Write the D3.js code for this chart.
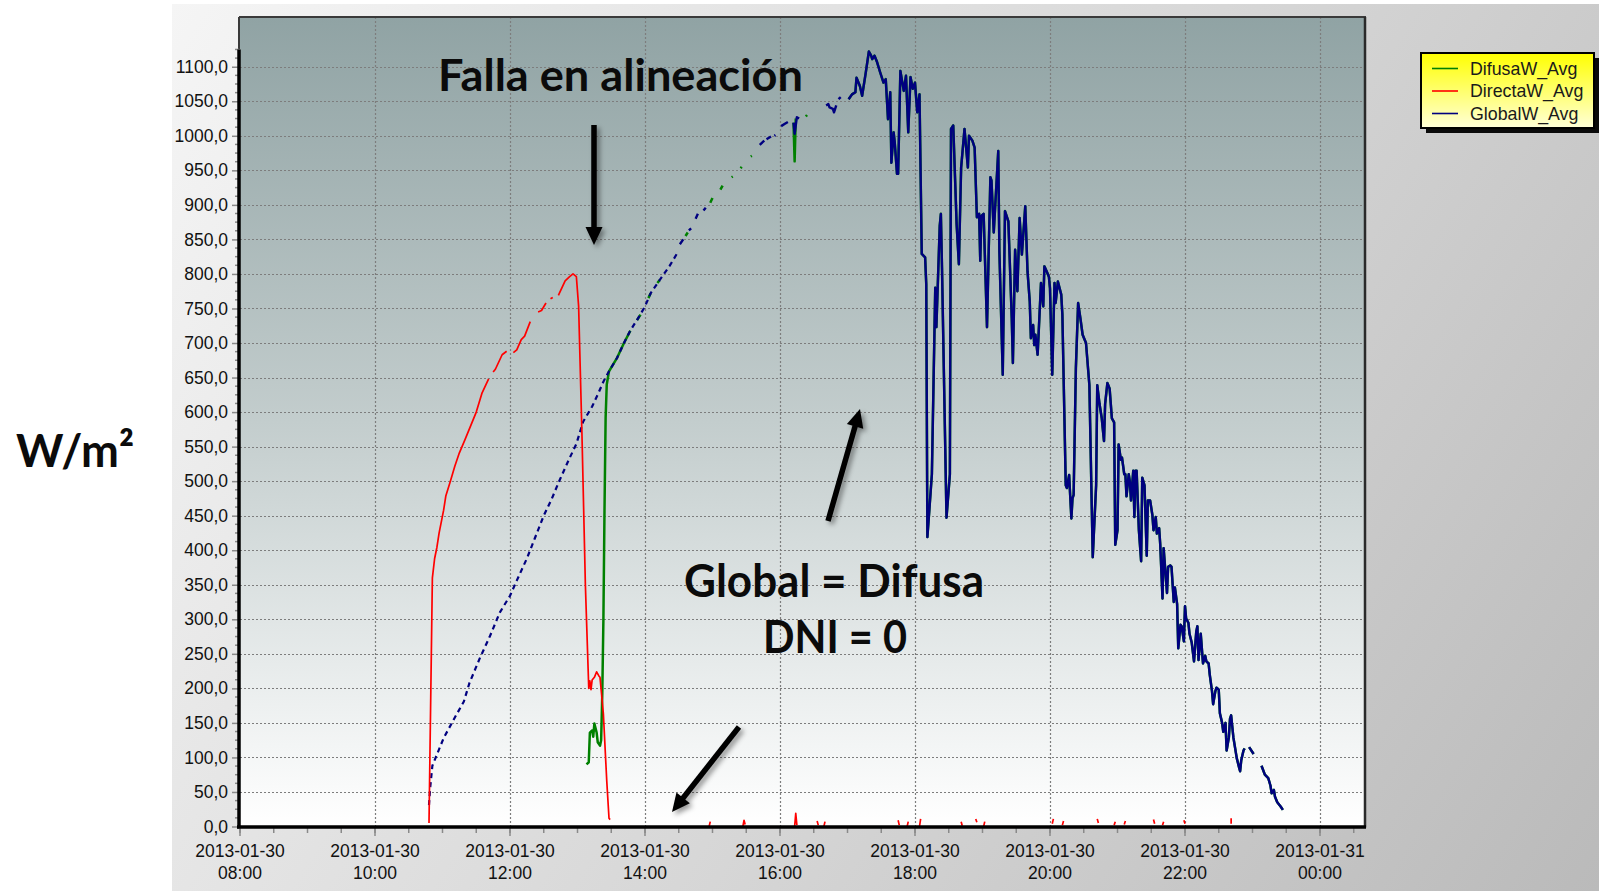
<!DOCTYPE html>
<html>
<head>
<meta charset="utf-8">
<script src="https://cdn.jsdelivr.net/npm/d3@7"></script>
<style>
  html, body { margin: 0; padding: 0; background: #ffffff; overflow: hidden; }
  svg { display: block; }
</style>
</head>
<body>
<svg id="chart" width="1599" height="891"></svg>
<script>
// ---------------------------------------------------------------
// Irradiance log, 2013-01-30 (W/m², 1-min averages)
// Each reading is [time, value]; null marks a gap in the logger record.
// ---------------------------------------------------------------

// Global horizontal irradiance while the logger recorded sparsely (drawn dashed)
const globalRise = [
  ["10:48", 31], ["10:49", 55], ["10:51", 88], ["11:01", 128], ["11:10", 155],
  ["11:19", 181], ["11:24", 208], ["11:33", 243], ["11:42", 275], ["11:51", 310],
  ["12:00", 334], ["12:06", 356], ["12:15", 388], ["12:22", 417], ["12:30", 450],
  ["12:37", 474], ["12:44", 501], ["12:52", 530], ["12:59", 554], ["13:05", 586],
  ["13:13", 608], ["13:19", 629], ["13:23", 644], ["13:28", 659], ["13:35", 678],
  ["13:41", 699], ["13:47", 718], ["13:55", 739], ["14:00", 753], ["14:05", 772],
  ["14:13", 791], ["14:22", 812], ["14:29", 831]
];

// Global horizontal irradiance, afternoon
const globalReadings = [
  ["14:31", 843], ["14:34", 850], null,
  ["14:39", 863], ["14:41", 866], null,
  ["14:45", 880], ["14:47", 887], null,
  ["14:52", 892], ["14:54", 896], null,
  ["15:42", 987], ["15:46", 993], null,
  ["15:48", 995], ["15:52", 999], null,
  ["15:55", 1000], ["15:56", 1001], null,
  ["16:01", 1014], ["16:04", 1017], ["16:07", 1020], null,
  ["16:12", 1019], ["16:13", 1003], ["16:15", 1027], ["16:17", 1025], null,
  ["16:41", 1044], ["16:43", 1046], ["16:44", 1041], ["16:47", 1039], ["16:48", 1034], ["16:50", 1044], null,
  ["16:52", 1053], ["16:54", 1056], null,
  ["17:01", 1053], ["17:04", 1060], ["17:07", 1063], ["17:08", 1084], ["17:11", 1072],
  ["17:13", 1058], ["17:16", 1089], ["17:19", 1122], ["17:21", 1116], ["17:22", 1111],
  ["17:24", 1116], ["17:26", 1108], ["17:29", 1092], ["17:32", 1077], ["17:34", 1082],
  ["17:36", 1024], ["17:38", 1063], ["17:39", 961], ["17:41", 1005], ["17:42", 990],
  ["17:44", 945], ["17:45", 945], ["17:47", 1094], ["17:50", 1065], ["17:52", 1087],
  ["17:54", 1005], ["17:56", 1085], ["17:58", 1068], ["18:00", 1077], ["18:02", 1034],
  ["18:04", 1060], ["18:06", 829], ["18:09", 824], ["18:10", 785], ["18:11", 419],
  ["18:13", 464], ["18:15", 510], ["18:18", 780], ["18:19", 723], ["18:22", 870],
  ["18:23", 887], ["18:24", 809], ["18:25", 718], ["18:28", 447], ["18:31", 510],
  ["18:32", 1010], ["18:34", 1015], ["18:37", 872], ["18:39", 814], ["18:41", 954],
  ["18:44", 1010], ["18:47", 954], ["18:48", 1000], ["18:51", 993], ["18:53", 983],
  ["18:55", 882], ["18:57", 887], ["18:58", 819], ["18:59", 884], ["19:01", 887],
  ["19:04", 723], ["19:07", 940], ["19:08", 935], ["19:10", 860], ["19:14", 978],
  ["19:15", 833], ["19:18", 654], ["19:20", 891], ["19:23", 876], ["19:26", 736],
  ["19:27", 671], ["19:29", 835], ["19:31", 775], ["19:33", 881], ["19:35", 828],
  ["19:38", 898], ["19:40", 804], ["19:42", 760], ["19:43", 707], ["19:45", 726],
  ["19:46", 697], ["19:47", 712], ["19:49", 683], ["19:52", 787], ["19:54", 753],
  ["19:55", 811], ["19:57", 804], ["19:59", 796], ["20:00", 779], ["20:02", 654],
  ["20:04", 787], ["20:05", 758], ["20:07", 789], ["20:10", 770], ["20:11", 741],
  ["20:14", 494], ["20:15", 490], ["20:17", 509], ["20:19", 446], ["20:20", 475],
  ["20:21", 480], ["20:23", 664], ["20:25", 758], ["20:27", 736], ["20:29", 712],
  ["20:32", 700], ["20:35", 639], ["20:38", 390], ["20:41", 494], ["20:42", 639],
  ["20:44", 612], ["20:46", 591], ["20:48", 558], ["20:49", 612], ["20:51", 642],
  ["20:53", 634], ["20:55", 591], ["20:57", 585], ["20:58", 408], ["21:00", 429],
  ["21:01", 553], ["21:03", 531], ["21:04", 534], ["21:06", 510], ["21:07", 510],
  ["21:08", 478], ["21:10", 510], ["21:11", 499], ["21:12", 472], ["21:14", 515],
  ["21:15", 448], ["21:16", 515], ["21:17", 515], ["21:19", 429], ["21:21", 384],
  ["21:22", 505], ["21:24", 494], ["21:26", 392], ["21:27", 472], ["21:29", 472],
  ["21:31", 451], ["21:32", 429], ["21:34", 448], ["21:35", 424], ["21:37", 432],
  ["21:38", 408], ["21:40", 330], ["21:41", 403], ["21:43", 360], ["21:44", 338],
  ["21:45", 376], ["21:47", 378], ["21:48", 376], ["21:50", 325], ["21:51", 346],
  ["21:53", 322], ["21:54", 258], ["21:56", 292], ["21:57", 290], ["21:59", 268],
  ["22:00", 319], ["22:01", 301], ["22:03", 295], ["22:04", 279], ["22:06", 266],
  ["22:08", 239], ["22:10", 282], ["22:11", 290], ["22:12", 241], ["22:14", 279],
  ["22:16", 236], ["22:18", 247], ["22:19", 239], ["22:21", 236], ["22:22", 220],
  ["22:24", 196], ["22:25", 177], ["22:27", 196], ["22:28", 201], ["22:30", 198],
  ["22:31", 164], ["22:33", 150], ["22:34", 137], ["22:36", 150], ["22:37", 110],
  ["22:39", 129], ["22:40", 156], ["22:41", 161], ["22:43", 129], ["22:46", 99],
  ["22:48", 86], ["22:49", 80], ["22:50", 96], ["22:52", 110], ["22:53", 113], null,
  ["22:57", 115], ["23:01", 105], null,
  ["23:08", 88], ["23:11", 75], ["23:14", 70], ["23:16", 59], ["23:17", 48],
  ["23:19", 53], ["23:20", 43], ["23:22", 35], ["23:25", 29], ["23:27", 24]
];

// Diffuse irradiance up to 17:00; afterwards it equals the global record
const difusaReadings = [
  ["13:08", 90], ["13:10", 93], ["13:11", 136], ["13:13", 139], ["13:14", 130],
  ["13:15", 149], ["13:17", 136], ["13:18", 122], ["13:20", 117], ["13:21", 125],
  ["13:22", 190], ["13:23", 297], ["13:24", 458], ["13:25", 592], ["13:26", 640],
  ["13:28", 659], ["13:35", 678], ["13:41", 699], ["13:47", 718], null,
  ["13:53", 733], ["13:56", 741], null,
  ["14:03", 765], ["14:05", 772], null,
  ["14:11", 787], ["14:13", 791], null,
  ["14:36", 855], ["14:38", 860], null,
  ["14:58", 903], ["15:00", 910], null,
  ["15:07", 922], ["15:09", 928], null,
  ["15:17", 940], ["15:18", 941], null,
  ["15:25", 953], ["15:26", 955], null,
  ["15:34", 970], ["15:35", 971], null,
  ["16:12", 1019], ["16:13", 963], ["16:14", 1025], null,
  ["16:23", 1028], ["16:24", 1030], null
];

// Direct normal irradiance (tracker), with the small residual readings after 13:30
const directaReadings = [
  ["10:48", 5], ["10:51", 360], ["10:53", 388], ["10:55", 404], ["10:57", 425],
  ["11:01", 458], ["11:03", 479], ["11:07", 500], ["11:11", 522], ["11:15", 541],
  ["11:20", 560], ["11:24", 576], ["11:30", 600], ["11:35", 627], ["11:41", 648], null,
  ["11:45", 658], ["11:47", 662], ["11:53", 683], ["11:57", 688], null,
  ["12:03", 686], ["12:06", 690], ["12:10", 705], ["12:13", 710], ["12:18", 731], null,
  ["12:25", 745], ["12:28", 747], ["12:32", 758], null,
  ["12:36", 764], ["12:38", 766], null,
  ["12:43", 769], ["12:49", 790], ["12:53", 796], ["12:56", 800], ["12:59", 796],
  ["13:01", 753], ["13:04", 565], ["13:07", 350], ["13:10", 200], ["13:11", 211],
  ["13:12", 198], ["13:13", 212], ["13:15", 216], ["13:17", 224], ["13:19", 218],
  ["13:20", 216], ["13:23", 163], ["13:26", 66], ["13:28", 12], ["13:29", 10], null,
  ["14:57", 0], ["14:58", 7], null,
  ["15:27", 0], ["15:28", 9], ["15:29", 3], null,
  ["16:13", 0], ["16:14", 19], ["16:15", 2], null,
  ["16:33", 8], ["16:34", 2], null,
  ["16:39", 0], ["16:40", 7], null,
  ["17:45", 9], ["17:46", 2], null,
  ["17:53", 0], ["17:54", 7], null,
  ["18:04", 0], ["18:05", 11], null,
  ["18:41", 7], ["18:42", 1], null,
  ["18:54", 11], ["18:55", 6], null,
  ["19:01", 0], ["19:02", 7], null,
  ["20:02", 4], ["20:03", 11], null,
  ["20:11", 2], ["20:12", 8], null,
  ["20:42", 11], ["20:43", 5], null,
  ["20:57", 2], ["20:58", 7], null,
  ["21:06", 3], ["21:07", 8], null,
  ["21:32", 10], ["21:33", 4], null,
  ["21:40", 2], ["21:41", 7], null,
  ["21:59", 9], ["22:00", 4], null,
  ["22:41", 4], ["22:41", 12]
];

const seriesNames = ["DifusaW_Avg", "DirectaW_Avg", "GlobalW_Avg"];
const xTickLabels = [
  "2013-01-30 08:00", "2013-01-30 10:00", "2013-01-30 12:00", "2013-01-30 14:00",
  "2013-01-30 16:00", "2013-01-30 18:00", "2013-01-30 20:00", "2013-01-30 22:00",
  "2013-01-31 00:00"
];
const yTickValues = [0, 50, 100, 150, 200, 250, 300, 350, 400, 450, 500, 550,
  600, 650, 700, 750, 800, 850, 900, 950, 1000, 1050, 1100];

// ---------------------------------------------------------------
const parseFull = d3.timeParse("%Y-%m-%d %H:%M");
const day = "2013-01-30";
const toPoints = rows => rows.map(r => r ? { t: parseFull(day + " " + r[0]), v: r[1] } : null);

const W = 1599, H = 891;
const plot = { left: 240, right: 1365, top: 17, bottom: 826.5 };

const x = d3.scaleTime()
  .domain([parseFull("2013-01-30 08:00"), parseFull("2013-01-31 00:40")])
  .range([plot.left, plot.right]);
const y = d3.scaleLinear().domain([0, 1172]).range([plot.bottom, plot.top]);

const svg = d3.select("#chart");
const defs = svg.append("defs");

// backdrop of the exported chart image
const bgGrad = defs.append("linearGradient").attr("id", "bgGrad")
  .attr("gradientUnits", "userSpaceOnUse")
  .attr("x1", 172).attr("y1", 4).attr("x2", 1599).attr("y2", 891);
bgGrad.append("stop").attr("offset", 0).attr("stop-color", "#f5f5f5");
bgGrad.append("stop").attr("offset", 0.55).attr("stop-color", "#d6d6d6");
bgGrad.append("stop").attr("offset", 1).attr("stop-color", "#bababa");

const plotGrad = defs.append("linearGradient").attr("id", "plotGrad")
  .attr("x1", 0).attr("y1", 0).attr("x2", 0).attr("y2", 1);
plotGrad.append("stop").attr("offset", 0).attr("stop-color", "#90a3a4");
plotGrad.append("stop").attr("offset", 0.5).attr("stop-color", "#c3cdcd");
plotGrad.append("stop").attr("offset", 1).attr("stop-color", "#ffffff");

const legGrad = defs.append("linearGradient").attr("id", "legGrad")
  .attr("x1", 0).attr("y1", 0).attr("x2", 0).attr("y2", 1);
legGrad.append("stop").attr("offset", 0).attr("stop-color", "#ffff00");
legGrad.append("stop").attr("offset", 1).attr("stop-color", "#ffffd8");

const shadow = defs.append("filter").attr("id", "arrowShadow")
  .attr("x", "-50%").attr("y", "-50%").attr("width", "200%").attr("height", "200%");
shadow.append("feDropShadow").attr("dx", 3).attr("dy", 3)
  .attr("stdDeviation", 2.5).attr("flood-color", "#000").attr("flood-opacity", 0.4);

defs.append("clipPath").attr("id", "plotClip").append("rect")
  .attr("x", plot.left).attr("y", plot.top)
  .attr("width", plot.right - plot.left).attr("height", plot.bottom - plot.top + 2);

svg.append("rect").attr("x", 172).attr("y", 4).attr("width", W - 172).attr("height", H - 4)
  .attr("fill", "url(#bgGrad)");

svg.append("rect").attr("x", plot.left).attr("y", plot.top)
  .attr("width", plot.right - plot.left).attr("height", plot.bottom - plot.top)
  .attr("fill", "url(#plotGrad)");

// dotted grid
const xTicks = xTickLabels.map(parseFull);
const grid = svg.append("g").attr("stroke", "#7d7d7d").attr("stroke-width", 1.2)
  .attr("stroke-dasharray", "2,2");
grid.selectAll("line.h").data(yTickValues.filter(v => v > 0)).join("line")
  .attr("class", "h")
  .attr("x1", plot.left).attr("x2", plot.right)
  .attr("y1", d => Math.round(y(d)) + 0.5).attr("y2", d => Math.round(y(d)) + 0.5);
grid.selectAll("line.v").data(xTicks.slice(1)).join("line")
  .attr("class", "v")
  .attr("y1", plot.top).attr("y2", plot.bottom)
  .attr("x1", d => Math.round(x(d)) + 0.5).attr("x2", d => Math.round(x(d)) + 0.5);

// series
const line = d3.line().defined(d => d !== null).x(d => x(d.t)).y(d => y(d.v));
const series = svg.append("g").attr("clip-path", "url(#plotClip)")
  .attr("fill", "none").attr("stroke-linejoin", "round");

const sharedStart = globalReadings.findIndex(r => r && r[0] === "17:01");
const difusaPoints = toPoints(difusaReadings.concat(globalReadings.slice(sharedStart)));

series.append("path").datum(difusaPoints).attr("d", line)
  .attr("stroke", "#008000").attr("stroke-width", 2.5);
series.append("path").datum(toPoints(globalRise)).attr("d", line)
  .attr("stroke", "#000080").attr("stroke-width", 2.2).attr("stroke-dasharray", "5,4");
series.append("path").datum(toPoints(globalReadings)).attr("d", line)
  .attr("stroke", "#000080").attr("stroke-width", 2.4);
series.append("path").datum(toPoints(directaReadings)).attr("d", line)
  .attr("stroke", "#ff0000").attr("stroke-width", 1.7);

// frame
const frame = svg.append("g");
frame.append("line").attr("x1", plot.left - 1).attr("x2", plot.right + 1)
  .attr("y1", plot.top).attr("y2", plot.top).attr("stroke", "#3a3a3a").attr("stroke-width", 2);
frame.append("line").attr("x1", plot.right).attr("x2", plot.right)
  .attr("y1", plot.top).attr("y2", plot.bottom + 1).attr("stroke", "#2a2a2a").attr("stroke-width", 2.5);
frame.append("line").attr("x1", plot.left - 1).attr("x2", plot.left - 1)
  .attr("y1", plot.top).attr("y2", y(1125)).attr("stroke", "#3a3a3a").attr("stroke-width", 2);

// y axis
const yFmt = d3.formatLocale({ decimal: ",", thousands: ".", grouping: [3], currency: ["", ""] }).format(".1f");
const yMinor = d3.range(0, 1125.01, 12.5).filter(v => v % 50 !== 0);
const yAxisG = svg.append("g").attr("transform", `translate(${plot.left - 1},0)`);
yAxisG.selectAll("line.minor").data(yMinor).join("line").attr("class", "minor")
  .attr("x1", -4).attr("x2", 0).attr("y1", d => y(d)).attr("y2", d => y(d))
  .attr("stroke", "#8a8a8a").attr("stroke-width", 1.5);
yAxisG.call(d3.axisLeft(y).tickValues(yTickValues).tickFormat(yFmt).tickSize(7).tickPadding(4))
  .call(g => g.select(".domain").remove())
  .call(g => g.selectAll(".tick line").attr("stroke", "#8a8a8a").attr("stroke-width", 1.5))
  .call(g => g.selectAll(".tick text").attr("fill", "#111")
    .style("font-family", "'Liberation Sans', Arial, sans-serif").style("font-size", "17.5px"));
yAxisG.append("line").attr("x1", 0).attr("x2", 0).attr("y1", y(1125)).attr("y2", plot.bottom + 2)
  .attr("stroke", "#000").attr("stroke-width", 3.5);

// x axis
const xMinor = d3.timeMinute.every(30).range(parseFull("2013-01-30 08:00"), parseFull("2013-01-31 00:40"));
const xAxisG = svg.append("g").attr("transform", `translate(0,${plot.bottom + 0.5})`);
xAxisG.selectAll("line.minor").data(xMinor).join("line").attr("class", "minor")
  .attr("x1", d => x(d)).attr("x2", d => x(d)).attr("y1", 0).attr("y2", 6)
  .attr("stroke", "#8a8a8a").attr("stroke-width", 1.5);
xAxisG.selectAll("line.major").data(xTicks).join("line").attr("class", "major")
  .attr("x1", d => x(d)).attr("x2", d => x(d)).attr("y1", 0).attr("y2", 9)
  .attr("stroke", "#8a8a8a").attr("stroke-width", 1.5);
const fmtDate = d3.timeFormat("%Y-%m-%d"), fmtHour = d3.timeFormat("%H:%M");
const xLab = xAxisG.selectAll("text").data(xTicks).join("text")
  .attr("text-anchor", "middle").attr("fill", "#111")
  .style("font-family", "'Liberation Sans', Arial, sans-serif").style("font-size", "17.5px");
xLab.append("tspan").attr("x", d => x(d)).attr("y", 30).text(fmtDate);
xLab.append("tspan").attr("x", d => x(d)).attr("y", 52).text(fmtHour);
xAxisG.append("line").attr("x1", plot.left - 3).attr("x2", plot.right + 1)
  .attr("y1", 0).attr("y2", 0).attr("stroke", "#000").attr("stroke-width", 3.5);

// legend
const legend = svg.append("g").attr("transform", "translate(1421,53)");
legend.append("rect").attr("x", 5).attr("y", 5).attr("width", 173).attr("height", 75).attr("fill", "#0a0a0a");
legend.append("rect").attr("width", 173).attr("height", 75)
  .attr("fill", "url(#legGrad)").attr("stroke", "#000").attr("stroke-width", 2);
const legColors = ["#008000", "#ff0000", "#000080"];
const legRows = legend.selectAll("g.row").data(seriesNames).join("g").attr("class", "row")
  .attr("transform", (d, i) => `translate(0,${15.5 + i * 22.5})`);
legRows.append("line").attr("x1", 11).attr("x2", 37).attr("y1", 0).attr("y2", 0)
  .attr("stroke", (d, i) => legColors[i]).attr("stroke-width", 1.6);
legRows.append("text").attr("x", 49).attr("y", 6).text(d => d)
  .attr("fill", "#1a1a1a")
  .style("font-family", "'Liberation Sans', Arial, sans-serif").style("font-size", "17.8px");

// annotations
const bold = sel => sel.attr("fill", "#0b0b0b").style("font-family", "Lato, 'Open Sans', sans-serif")
  .style("font-weight", "bold");
svg.append("text").attr("x", 16).attr("y", 467).text("W/m²")
  .attr("textLength", 118).attr("lengthAdjust", "spacingAndGlyphs")
  .call(bold).style("font-size", "46px");
svg.append("text").attr("x", 438).attr("y", 91).text("Falla en alineación")
  .attr("textLength", 365).attr("lengthAdjust", "spacingAndGlyphs")
  .call(bold).style("font-size", "44px");
svg.append("text").attr("x", 684).attr("y", 597).text("Global = Difusa")
  .attr("textLength", 300).attr("lengthAdjust", "spacingAndGlyphs")
  .call(bold).style("font-size", "45px");
svg.append("text").attr("x", 763).attr("y", 653).text("DNI = 0")
  .attr("textLength", 144).attr("lengthAdjust", "spacingAndGlyphs")
  .call(bold).style("font-size", "45px");

// pointer arrows: [tail, tip]
const arrows = [
  [[594, 125], [594, 245]],
  [[828, 521], [860, 409]],
  [[739, 727], [672, 812]]
];
const arrowG = svg.append("g").attr("filter", "url(#arrowShadow)");
arrows.forEach(([tail, tip]) => {
  const dx = tip[0] - tail[0], dy = tip[1] - tail[1];
  const len = Math.hypot(dx, dy), ux = dx / len, uy = dy / len;
  const headLen = 18, headHalf = 8.5;
  const base = [tip[0] - ux * headLen, tip[1] - uy * headLen];
  arrowG.append("line").attr("x1", tail[0]).attr("y1", tail[1])
    .attr("x2", base[0] + ux * 2).attr("y2", base[1] + uy * 2)
    .attr("stroke", "#000").attr("stroke-width", 5.5);
  arrowG.append("path")
    .attr("d", `M${tip[0]},${tip[1]} L${base[0] - uy * headHalf},${base[1] + ux * headHalf} L${base[0] + uy * headHalf},${base[1] - ux * headHalf} Z`)
    .attr("fill", "#000");
});
</script>
</body>
</html>
